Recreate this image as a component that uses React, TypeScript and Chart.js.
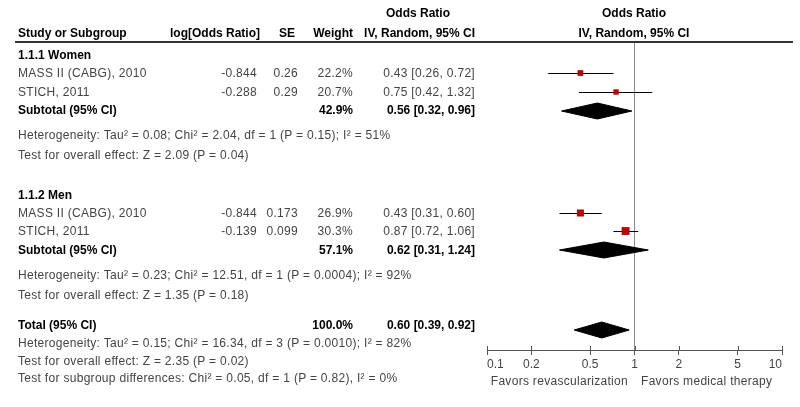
import React, { useEffect, useRef } from "react";
import { Chart, registerables } from "chart.js";
Chart.register(...registerables);

// ---------------- data ----------------
const GROUP_TITLES = ["1.1.1 Women", "1.1.2 Men"];
const STUDY_NAMES = ["MASS II (CABG), 2010", "STICH, 2011", "MASS II (CABG), 2010", "STICH, 2011"];
const STUDY_GROUP = [0, 0, 1, 1];
const LOG_OR = ["-0.844", "-0.288", "-0.844", "-0.139"];
const SE = ["0.26", "0.29", "0.173", "0.099"];
const WEIGHT = [22.2, 20.7, 26.9, 30.3];
const OR = [0.43, 0.75, 0.43, 0.87];
const OR_LO = [0.26, 0.42, 0.31, 0.72];
const OR_HI = [0.72, 1.32, 0.6, 1.06];

const SUB_WEIGHT = [42.9, 57.1];
const SUB_OR = [0.56, 0.62];
const SUB_LO = [0.32, 0.31];
const SUB_HI = [0.96, 1.24];
const SUB_HET = [
  "Heterogeneity: Tau² = 0.08; Chi² = 2.04, df = 1 (P = 0.15); I² = 51%",
  "Heterogeneity: Tau² = 0.23; Chi² = 12.51, df = 1 (P = 0.0004); I² = 92%",
];
const SUB_TEST = ["Test for overall effect: Z = 2.09 (P = 0.04)", "Test for overall effect: Z = 1.35 (P = 0.18)"];

const TOTAL_WEIGHT = 100.0;
const TOTAL_OR = 0.6;
const TOTAL_LO = 0.39;
const TOTAL_HI = 0.92;
const TOTAL_HET = "Heterogeneity: Tau² = 0.15; Chi² = 16.34, df = 3 (P = 0.0010); I² = 82%";
const TOTAL_TEST = "Test for overall effect: Z = 2.35 (P = 0.02)";
const SUBGROUP_TEST = "Test for subgroup differences: Chi² = 0.05, df = 1 (P = 0.82), I² = 0%";

const TICKS = [0.1, 0.2, 0.5, 1, 2, 5, 10];
const TICK_LABELS = ["0.1", "0.2", "0.5", "1", "2", "5", "10"];
const FAVOURS_LEFT = "Favors revascularization";
const FAVOURS_RIGHT = "Favors medical therapy";

// ---------------- layout ----------------
const W = 800;
const H = 407;
const FONT = '"Liberation Sans", Arial, Helvetica, sans-serif';
const PLOT_LEFT = 487;
const PLOT_RIGHT = 782;
const PLOT_TOP = 42;
const AXIS_Y = 350;
const STUDY_ROW_Y = [73, 92, 213, 231];
const GROUP_TITLE_Y = [55, 195];
const SUB_Y = [110, 250];
const SUB_DIAMOND_Y = [111, 250];
const SUB_HET_Y = [135, 275];
const SUB_TEST_Y = [155, 295];
const TOTAL_Y = 325;
const TOTAL_DIAMOND_Y = 330;
const TOTAL_HET_Y = 343;
const TOTAL_TEST_Y = 361;
const SUBGROUP_Y = 378;
const DIAMOND_HALF = 8;
const SQUARE_PER_WEIGHT = 0.26;

const COL_NAME = 18;
const COL_LOGOR_HDR = 260;
const COL_LOGOR = 257;
const COL_SE_HDR = 295;
const COL_SE = 298;
const COL_WEIGHT = 353;
const COL_OR = 475;
const COL_OR_CENTER = 418;
const PLOT_HDR_CENTER = 634;

const fmtCI = (e: number, l: number, h: number) => `${e.toFixed(2)} [${l.toFixed(2)}, ${h.toFixed(2)}]`;

type TProps = { x: number; y: number; text: string; align?: "left" | "right" | "center"; bold?: boolean; color?: string };
function T({ x, y, text, align = "left", bold = false, color }: TProps) {
  const style: React.CSSProperties = {
    position: "absolute",
    top: y - 8,
    height: 16,
    lineHeight: "16px",
    fontSize: 12,
    fontFamily: FONT,
    fontWeight: bold ? 700 : 400,
    letterSpacing: bold ? "0px" : "0.3px",
    color: color ?? (bold ? "#000" : "#444"),
    whiteSpace: "nowrap",
  };
  if (align === "left") style.left = x;
  else if (align === "right") style.right = W - x;
  else {
    style.left = x;
    style.transform = "translateX(-50%)";
  }
  return <span style={style}>{text}</span>;
}

export default function App() {
  const ref = useRef<HTMLCanvasElement | null>(null);

  useEffect(() => {
    document.body.style.margin = "0";
    const canvas = ref.current;
    if (!canvas) return;

    const datasets: any[] = [];
    // study squares (size proportional to weight)
    datasets.push({
      type: "line",
      data: OR.map((v, i) => ({ x: v, y: STUDY_ROW_Y[i] })),
      showLine: false,
      pointStyle: "rect",
      pointRadius: WEIGHT.map((w) => (w * SQUARE_PER_WEIGHT) / Math.SQRT2),
      backgroundColor: "#c00000",
      borderColor: "#c00000",
      pointBorderWidth: 0,
      order: 0,
    });
    // CI lines
    OR.forEach((_, i) => {
      datasets.push({
        type: "line",
        data: [
          { x: OR_LO[i], y: STUDY_ROW_Y[i] + 0.5 },
          { x: OR_HI[i], y: STUDY_ROW_Y[i] + 0.5 },
        ],
        borderColor: "#000",
        borderWidth: 1,
        pointRadius: 0,
        fill: false,
        order: 1,
      });
    });
    // diamonds (upper half filled to lower half)
    const addDiamond = (lo: number, est: number, hi: number, y: number) => {
      datasets.push({
        type: "line",
        data: [
          { x: lo, y },
          { x: est, y: y - DIAMOND_HALF },
          { x: hi, y },
        ],
        borderColor: "#000",
        backgroundColor: "#000",
        borderWidth: 1,
        pointRadius: 0,
        tension: 0,
        fill: "+1",
        order: 2,
      });
      datasets.push({
        type: "line",
        data: [
          { x: lo, y },
          { x: est, y: y + DIAMOND_HALF },
          { x: hi, y },
        ],
        borderColor: "#000",
        backgroundColor: "#000",
        borderWidth: 1,
        pointRadius: 0,
        tension: 0,
        fill: false,
        order: 2,
      });
    };
    SUB_OR.forEach((e, g) => addDiamond(SUB_LO[g], e, SUB_HI[g], SUB_DIAMOND_Y[g]));
    addDiamond(TOTAL_LO, TOTAL_OR, TOTAL_HI, TOTAL_DIAMOND_Y);

    const upTicks = {
      id: "upTicks",
      afterDraw(chart: any) {
        const s = chart.scales.x;
        const ctx = chart.ctx;
        ctx.save();
        ctx.strokeStyle = "#555";
        ctx.lineWidth = 1;
        ctx.beginPath();
        s.ticks.forEach((t: any) => {
          const px = Math.round(s.getPixelForValue(t.value)) + 0.5;
          ctx.moveTo(px, s.top - 4);
          ctx.lineTo(px, s.top);
        });
        ctx.stroke();
        ctx.restore();
      },
    };

    const chart = new Chart(canvas, {
      type: "line",
      data: { datasets },
      options: {
        responsive: false,
        animation: false,
        events: [],
        layout: { padding: { left: PLOT_LEFT, right: W - PLOT_RIGHT, top: PLOT_TOP, bottom: 0 } },
        plugins: { legend: { display: false }, tooltip: { enabled: false } },
        scales: {
          x: {
            type: "logarithmic",
            min: TICKS[0],
            max: TICKS[TICKS.length - 1],
            position: "bottom",
            afterBuildTicks: (s: any) => {
              s.ticks = TICKS.map((v) => ({ value: v }));
            },
            afterFit: (s: any) => {
              s.height = H - AXIS_Y;
            },
            grid: {
              drawOnChartArea: true,
              color: (c: any) => (c.tick && c.tick.value === 1 ? "#8a8a8a" : "rgba(0,0,0,0)"),
              tickColor: "#555",
              tickLength: 5,
              lineWidth: 1,
            },
            border: { display: true, color: "#555", width: 1 },
            ticks: {
              callback: (_v: any, i: number) => TICK_LABELS[i],
              autoSkip: false,
              maxRotation: 0,
              align: "inner",
              padding: 2,
              color: "#444",
              font: { family: FONT, size: 12 },
            },
          },
          y: { type: "linear", min: PLOT_TOP, max: AXIS_Y, reverse: true, display: false },
        },
      } as any,
      plugins: [upTicks],
    });
    return () => chart.destroy();
  }, []);

  const texts: TProps[] = [];
  // headers
  texts.push({ x: COL_OR_CENTER, y: 13, text: "Odds Ratio", align: "center", bold: true });
  texts.push({ x: PLOT_HDR_CENTER, y: 13, text: "Odds Ratio", align: "center", bold: true });
  texts.push({ x: COL_NAME, y: 33, text: "Study or Subgroup", bold: true });
  texts.push({ x: COL_LOGOR_HDR, y: 33, text: "log[Odds Ratio]", align: "right", bold: true });
  texts.push({ x: COL_SE_HDR, y: 33, text: "SE", align: "right", bold: true });
  texts.push({ x: COL_WEIGHT, y: 33, text: "Weight", align: "right", bold: true });
  texts.push({ x: COL_OR, y: 33, text: "IV, Random, 95% CI", align: "right", bold: true });
  texts.push({ x: PLOT_HDR_CENTER, y: 33, text: "IV, Random, 95% CI", align: "center", bold: true });

  GROUP_TITLES.forEach((g, gi) => {
    texts.push({ x: COL_NAME, y: GROUP_TITLE_Y[gi], text: g, bold: true });
    STUDY_NAMES.forEach((name, i) => {
      if (STUDY_GROUP[i] !== gi) return;
      const y = STUDY_ROW_Y[i];
      texts.push({ x: COL_NAME, y, text: name });
      texts.push({ x: COL_LOGOR, y, text: LOG_OR[i], align: "right" });
      texts.push({ x: COL_SE, y, text: SE[i], align: "right" });
      texts.push({ x: COL_WEIGHT, y, text: WEIGHT[i].toFixed(1) + "%", align: "right" });
      texts.push({ x: COL_OR, y, text: fmtCI(OR[i], OR_LO[i], OR_HI[i]), align: "right" });
    });
    texts.push({ x: COL_NAME, y: SUB_Y[gi], text: "Subtotal (95% CI)", bold: true });
    texts.push({ x: COL_WEIGHT, y: SUB_Y[gi], text: SUB_WEIGHT[gi].toFixed(1) + "%", align: "right", bold: true });
    texts.push({ x: COL_OR, y: SUB_Y[gi], text: fmtCI(SUB_OR[gi], SUB_LO[gi], SUB_HI[gi]), align: "right", bold: true });
    texts.push({ x: COL_NAME, y: SUB_HET_Y[gi], text: SUB_HET[gi] });
    texts.push({ x: COL_NAME, y: SUB_TEST_Y[gi], text: SUB_TEST[gi] });
  });

  texts.push({ x: COL_NAME, y: TOTAL_Y, text: "Total (95% CI)", bold: true });
  texts.push({ x: COL_WEIGHT, y: TOTAL_Y, text: TOTAL_WEIGHT.toFixed(1) + "%", align: "right", bold: true });
  texts.push({ x: COL_OR, y: TOTAL_Y, text: fmtCI(TOTAL_OR, TOTAL_LO, TOTAL_HI), align: "right", bold: true });
  texts.push({ x: COL_NAME, y: TOTAL_HET_Y, text: TOTAL_HET });
  texts.push({ x: COL_NAME, y: TOTAL_TEST_Y, text: TOTAL_TEST });
  texts.push({ x: COL_NAME, y: SUBGROUP_Y, text: SUBGROUP_TEST });

  texts.push({ x: 628, y: 381, text: FAVOURS_LEFT, align: "right", color: "#444" });
  texts.push({ x: 641, y: 381, text: FAVOURS_RIGHT, align: "left", color: "#444" });

  return (
    <div style={{ position: "relative", width: W, height: H, background: "#fff", overflow: "hidden" }}>
      <canvas ref={ref} width={W} height={H} style={{ position: "absolute", left: 0, top: 0, width: W, height: H }} />
      <div style={{ position: "absolute", left: 15, top: 41, width: 778, height: 2, background: "#333" }} />
      {texts.map((t, i) => (
        <T key={i} {...t} />
      ))}
    </div>
  );
}
